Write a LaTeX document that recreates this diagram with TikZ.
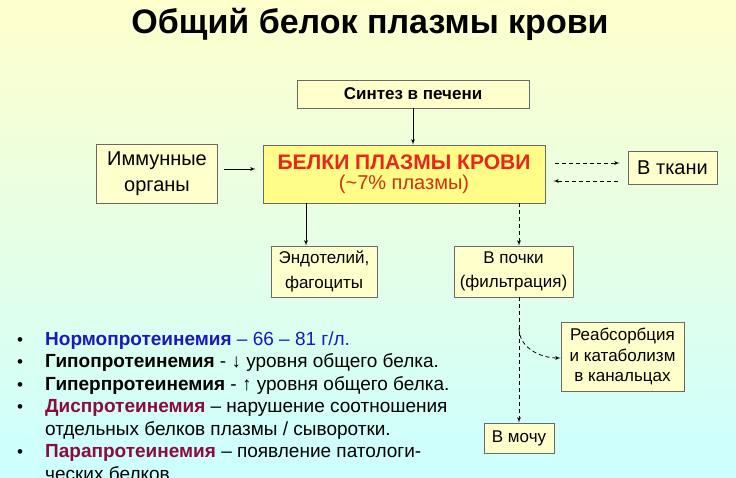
\documentclass[tikz,border=0pt]{standalone}
\usepackage{fontspec}
\setmainfont{Liberation Sans}
\usetikzlibrary{arrows,positioning}
\definecolor{bgtop}{RGB}{255,255,204}
\definecolor{bgbot}{RGB}{204,255,255}
\definecolor{boxfill}{RGB}{255,255,204}
\definecolor{boxline}{RGB}{105,105,105}
\definecolor{mainfill}{RGB}{255,252,135}
\definecolor{redtxt}{RGB}{232,38,28}
\definecolor{redsub}{RGB}{205,50,20}
\definecolor{normblue}{RGB}{25,25,190}
\definecolor{disred}{RGB}{140,12,62}
\newcommand{\fs}[1]{\fontsize{#1}{1.25\dimexpr#1pt\relax}\selectfont}

\begin{document}
\begin{tikzpicture}[x=1pt,y=-1pt,
  box/.style={draw=boxline,fill=boxfill,line width=.9pt,align=center,inner sep=0pt},
  arr/.style={->,>=latex',line width=.8pt},
  darr/.style={arr,dash pattern=on 4pt off 3pt},
  item/.style={anchor=base west,inner sep=0pt,font=\fs{19}},
  dot/.style={anchor=base,inner sep=0pt,font=\fs{17}}]
%background, the page is 736 x 477
\shade[top color=bgtop,bottom color=bgbot] (0,0) rectangle (736,477);
\useasboundingbox (0,0) rectangle (736,477);
%title
\node[anchor=base,font=\bfseries\fs{34}] (title) at (370,33) {Общий белок плазмы крови};
%the boxes of the scheme
\node[box,minimum width=232,minimum height=28,font=\bfseries\fs{17}] (sint) at (413,94) {Синтез в печени};
\node[box,minimum width=121,minimum height=59,font=\fs{20}] (immun) at (157,174) {Иммунные\\[1pt]органы};
\node[box,fill=mainfill,minimum width=282,minimum height=58] (belki) at (404,174) {{\color{redtxt}\bfseries\fs{21}БЕЛКИ ПЛАЗМЫ КРОВИ}\\[4pt]{\color{redsub}\fs{20}(\char"007E 7\% плазмы)}};
\node[box,minimum width=89,minimum height=33,font=\fs{20}] (tkani) at (672.5,167.5) {В ткани};
\node[box,minimum width=106,minimum height=51,font=\fs{17}] (endo) at (324,271.5) {Эндотелий,\\[3pt]фагоциты};
\node[box,minimum width=119,minimum height=51,font=\fs{17}] (pochki) at (513.5,271.5) {В почки\\[3pt](фильтрация)};
\node[box,minimum width=123,minimum height=69,font=\fs{17}] (reabs) at (622.5,356.5) {Реабсорбция\\[-1pt]и катаболизм\\[-1pt]в канальцах};
\node[box,minimum width=70,minimum height=30,font=\fs{17}] (mocha) at (519,438) {В мочу};
%connectors
\draw[arr] (sint.south) -- (sint.south |- belki.north);
\draw[arr,shorten <=6pt,shorten >=7pt] ([yshift=5pt]immun.east) -- ([yshift=5pt]immun.east -| belki.west);
\draw[darr,shorten <=10pt,shorten >=8pt] ([yshift=11pt]belki.east) -- ([yshift=11pt]belki.east -| tkani.west);
\draw[darr,shorten <=10pt,shorten >=8pt] ([yshift=-7pt]belki.east -| tkani.west) -- ([yshift=-7pt]belki.east);
\draw[arr] ([xshift=-18pt]endo.north |- belki.south) -- ([xshift=-18pt]endo.north);
\draw[darr] ([xshift=5.5pt]pochki.north |- belki.south) -- ([xshift=5.5pt]pochki.north);
\draw[darr] (mocha.north |- pochki.south) -- (mocha.north);
\coordinate (branch) at (519,328);
\draw[darr] (branch) to[out=-90,in=180] ([yshift=-1.5pt]reabs.west);
%list of terms
\node[dot] (b1) at (20,345) {•};
\node[item] (l1) at (45,345) {\color{normblue}\textbf{Нормопротеинемия} – 66 – 81 г/л.};
\node[dot] (b2) at (20,367.5) {•};
\node[item] (l2) at (45,367.5) {\textbf{Гипопротеинемия} - ↓ уровня общего белка.};
\node[dot] (b3) at (20,390) {•};
\node[item] (l3) at (45,390) {\textbf{Гиперпротеинемия} - ↑ уровня общего белка.};
\node[dot] (b4) at (20,412.5) {•};
\node[item] (l4) at (45,412.5) {\textbf{\color{disred}Диспротеинемия} – нарушение соотношения};
\node[item] (l5) at (45,435) {отдельных белков плазмы / сыворотки.};
\node[dot] (b6) at (20,457.5) {•};
\node[item] (l6) at (45,457.5) {\textbf{\color{disred}Парапротеинемия} – появление патологи-};
\node[item] (l7) at (45,480) {ческих белков.};
\end{tikzpicture}
\end{document}
